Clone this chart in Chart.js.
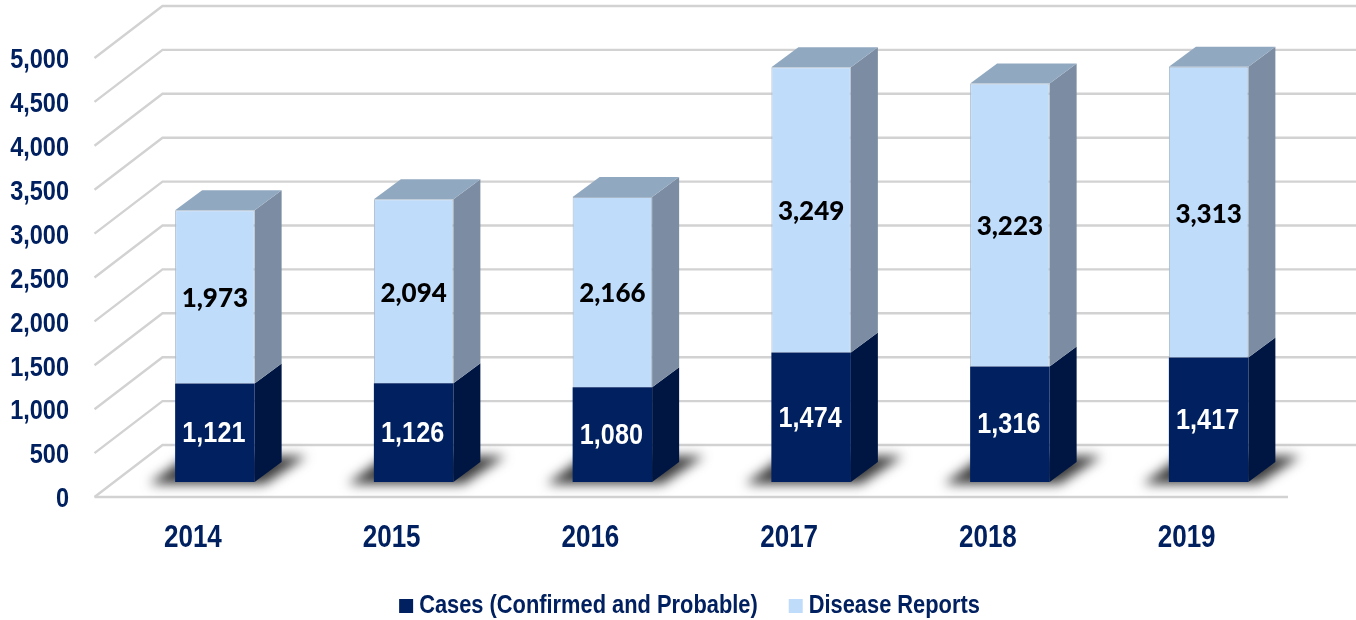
<!DOCTYPE html>
<html>
<head>
<meta charset="utf-8">
<style>
  html, body { margin: 0; padding: 0; background: #fff; overflow: hidden; }
  canvas { display: block; }
</style>
<script src="https://cdn.jsdelivr.net/npm/chart.js@4/dist/chart.umd.js"></script>
</head>
<body>
<canvas id="chart" width="1356" height="620"></canvas>
<script>
const years = ["2014", "2015", "2016", "2017", "2018", "2019"];
const casesValues = [1121, 1126, 1080, 1474, 1316, 1417];
const reportsValues = [1973, 2094, 2166, 3249, 3223, 3313];

const NAVY = "#002060";
const axisFont = "'Liberation Sans', Arial, sans-serif";

// pseudo 3D offsets, pixels from the bar plane
const BAR_DX = 27, BAR_DY = -20;
const FRONT_DX = -21, FRONT_DY = 15;
const BACK_DX = 47, BACK_DY = -37;
const WALL_RIGHT = 1356, FLOOR_RIGHT = 1288;

// No narrow font is installed, so squeeze the text horizontally instead.
let squeeze = 0.84;
const canvas = document.getElementById("chart");
const rawCtx = canvas.getContext("2d");
const rawFillText = rawCtx.fillText.bind(rawCtx);
const rawMeasure = rawCtx.measureText.bind(rawCtx);
rawCtx.fillText = function (text, x, y) {
  // legend text is the only left aligned text, pull it closer to its swatch
  const dx = rawCtx.textAlign === "left" ? -7 : 0;
  rawCtx.save();
  rawCtx.translate(x + dx, y);
  rawCtx.scale(squeeze, 1);
  rawFillText(text, 0, 0);
  rawCtx.restore();
};
rawCtx.measureText = function (text) {
  const m = rawMeasure(text);
  return { width: m.width * squeeze, actualBoundingBoxAscent: m.actualBoundingBoxAscent, actualBoundingBoxDescent: m.actualBoundingBoxDescent };
};

function fillPoly(ctx, pts, color) {
  ctx.fillStyle = color;
  ctx.beginPath();
  pts.forEach((p, i) => (i ? ctx.lineTo(p[0], p[1]) : ctx.moveTo(p[0], p[1])));
  ctx.closePath();
  ctx.fill();
}

const depthPlugin = {
  id: "depth",
  afterLayout(chart) {
    // legend sits off centre in the original
    const legend = chart.legend;
    legend.left += 39;
    legend.right += 39;
    legend.top += 9;
    legend.bottom += 9;
  },
  beforeDatasetsDraw(chart) {
    const ctx = chart.ctx;
    const yScale = chart.scales.y;
    const left = chart.chartArea.left;

    // walls and floor
    ctx.save();
    ctx.strokeStyle = "#d2d2d2";
    ctx.lineWidth = 2.4;
    yScale.ticks.forEach((t) => {
      const y = yScale.getPixelForValue(t.value);
      ctx.beginPath();
      ctx.moveTo(left + FRONT_DX, y + FRONT_DY);
      ctx.lineTo(left + BACK_DX, y + BACK_DY);
      ctx.lineTo(WALL_RIGHT, y + BACK_DY);
      ctx.stroke();
    });
    const y0 = yScale.getPixelForValue(0);
    ctx.beginPath();
    ctx.moveTo(left + FRONT_DX, y0 + FRONT_DY);
    ctx.lineTo(FLOOR_RIGHT, y0 + FRONT_DY);
    ctx.stroke();
    ctx.restore();

    const lower = chart.getDatasetMeta(0).data;
    const upper = chart.getDatasetMeta(1).data;

    // floor shadows
    ctx.save();
    ctx.filter = "blur(6px)";
    lower.forEach((bar) => {
      const l = bar.x - bar.width / 2, r = bar.x + bar.width / 2, b = bar.base;
      fillPoly(ctx, [[l - 26, b + 2], [r + 10, b + 2], [r + 52, b - 26], [l + 12, b - 26]], "#3c3c3c");
    });
    ctx.restore();

    // side and top faces
    lower.forEach((bar, i) => {
      const r = bar.x + bar.width / 2, l = bar.x - bar.width / 2;
      const top = upper[i];
      fillPoly(ctx, [[r, bar.base], [r + BAR_DX, bar.base + BAR_DY], [r + BAR_DX, bar.y + BAR_DY], [r, bar.y]], "#001642");
      fillPoly(ctx, [[r, bar.y], [r + BAR_DX, bar.y + BAR_DY], [r + BAR_DX, top.y + BAR_DY], [r, top.y]], "#7c8da3");
      fillPoly(ctx, [[l, top.y], [r, top.y], [r + BAR_DX, top.y + BAR_DY], [l + BAR_DX, top.y + BAR_DY]], "#91a9c0");
    });
  },
  afterDatasetsDraw(chart) {
    const ctx = chart.ctx;
    ctx.save();
    ctx.textAlign = "center";
    ctx.textBaseline = "middle";
    chart.getDatasetMeta(0).data.forEach((bar, i) => {
      ctx.font = "bold 30px " + axisFont;
      ctx.fillStyle = "#ffffff";
      ctx.fillText(casesValues[i].toLocaleString("en-US"), bar.x - 1, (bar.y + bar.base) / 2 + 1);
    });
    squeeze = 1;
    chart.getDatasetMeta(1).data.forEach((bar, i) => {
      ctx.font = "900 26px Lato, sans-serif";
      ctx.fillStyle = "#000000";
      ctx.fillText(reportsValues[i].toLocaleString("en-US"), bar.x, (bar.y + bar.base) / 2 + 2);
    });
    squeeze = 0.84;
    ctx.restore();
  },
};

new Chart(canvas, {
  type: "bar",
  data: {
    labels: years,
    datasets: [
      {
        label: "Cases (Confirmed and Probable)",
        data: casesValues,
        backgroundColor: NAVY,
        borderWidth: 0,
      },
      {
        label: "Disease Reports",
        data: reportsValues,
        backgroundColor: "#bfdcfb",
        borderColor: "#a9b9c9",
        borderWidth: 1,
      },
    ],
  },
  options: {
    responsive: false,
    animation: false,
    layout: { padding: { left: 0, right: 48, top: 43, bottom: 0 } },
    datasets: { bar: { categoryPercentage: 0.4, barPercentage: 1 } },
    plugins: {
      tooltip: { enabled: false },
      legend: {
        position: "bottom",
        labels: {
          color: NAVY,
          boxWidth: 14,
          boxHeight: 14,
          padding: 24,
          font: { family: axisFont, weight: "bold", size: 26 },
          generateLabels(chart) {
            return Chart.defaults.plugins.legend.labels.generateLabels(chart).map((item) => ({ ...item, lineWidth: 0 }));
          },
        },
      },
    },
    scales: {
      x: {
        stacked: true,
        grid: { display: false },
        border: { display: false },
        afterFit(scale) { scale.height = 78; },
        ticks: {
          color: NAVY,
          padding: 30,
          labelOffset: FRONT_DX - 1,
          maxRotation: 0,
          font: { family: axisFont, weight: "bold", size: 31 },
        },
      },
      y: {
        stacked: true,
        min: 0,
        max: 5000,
        grid: { display: false, drawTicks: false },
        border: { display: false },
        // the big tick padding would otherwise also push the plot top down
        afterFit(scale) {
          scale.width = 115.5;
          scale.paddingTop = 0;
          scale.paddingBottom = 0;
        },
        ticks: {
          stepSize: 500,
          autoSkip: false,
          color: NAVY,
          padding: 46.5,
          labelOffset: FRONT_DY + 2.5,
          font: { family: axisFont, weight: "bold", size: 28 },
          callback: (v) => v.toLocaleString("en-US"),
        },
      },
    },
  },
  plugins: [depthPlugin],
});
</script>
</body>
</html>
